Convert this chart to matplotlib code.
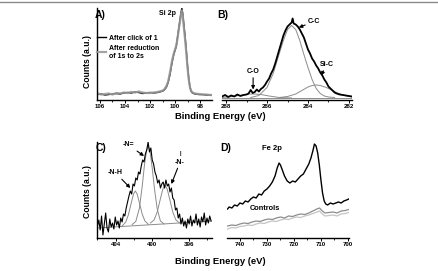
import matplotlib
matplotlib.use("Agg")
import matplotlib.pyplot as plt
from matplotlib.lines import Line2D
from matplotlib.ticker import MultipleLocator
import numpy as np

plt.rcParams['font.family'] = ['Liberation Sans', 'DejaVu Sans']
plt.rcParams['font.weight'] = 'bold'

# A) Si 2p
si_e = [106.2, 105.9, 105.6, 105.3, 105.0, 104.7, 104.4, 104.1, 103.8, 103.5, 103.2, 102.9,
        102.6, 102.3, 102.0, 101.7, 101.4, 101.1, 100.9, 100.7, 100.55, 100.4, 100.25, 100.1,
        100.0, 99.9, 99.8, 99.7, 99.6, 99.52, 99.45, 99.38, 99.3, 99.2, 99.1, 99.0, 98.9,
        98.8, 98.7, 98.6, 98.4, 98.1, 97.8, 97.5, 97.2, 97.0]
si_click = [5, 5.5, 4.5, 5, 5.5, 6, 5.5, 6.5, 7, 6.5, 7.5, 7, 6, 6.5, 7, 6.5, 7, 8,
            9, 12, 17, 25, 36, 45, 49, 53, 62, 71, 80, 87, 91, 86, 76, 64, 50,
            34, 21, 12, 8, 6.5, 5.5, 5, 5, 4.5, 4.5, 4]
si_reduced = [6, 5, 5.5, 6, 5, 6.5, 6, 7, 6.5, 7.5, 7, 8, 7, 6.5, 6.5, 7, 7.5, 8.5,
              9.5, 13, 18, 27, 38, 46, 50, 54, 61, 70, 78, 85, 89, 84, 73, 61, 47,
              32, 20, 12, 8.5, 7, 6, 5.5, 5, 5, 4.5, 4.5]

# B) C 1s
cs_e = [288.2, 288.05, 287.9, 287.75, 287.6, 287.45, 287.3, 287.15, 287.0,
        286.9, 286.8, 286.7, 286.6, 286.5, 286.4, 286.3, 286.2, 286.1, 286.0,
        285.9, 285.8, 285.7, 285.6, 285.5, 285.4, 285.3, 285.2, 285.1, 285.0,
        284.9, 284.8, 284.75, 284.7, 284.6, 284.5, 284.4, 284.3, 284.2, 284.1, 284.0,
        283.9, 283.8, 283.7, 283.6, 283.5, 283.4, 283.3, 283.2, 283.1, 283.0,
        282.9, 282.8, 282.7, 282.6, 282.45, 282.3, 282.15, 282.0, 281.85]
cs_y = [3, 4.5, 2.5, 4, 3, 5, 3.5, 4.5, 5,
        6, 9.5, 6.5, 7.5, 10, 8, 10.5, 12, 14.5, 18,
        21, 26, 30, 36, 43, 50, 57, 64, 69, 73,
        75, 77, 81, 76, 75, 73, 70, 66, 62, 56, 50,
        46, 41, 38, 34, 31, 27, 24, 20, 17, 13,
        11, 9, 7, 6, 5, 4.5, 4, 3.5, 3]
cc_e = [286.8, 286.4, 286.0, 285.7, 285.4, 285.2, 285.0, 284.8, 284.6, 284.4, 284.2,
        284.0, 283.8, 283.6, 283.4, 283.2, 283.0, 282.7]
cc_y = [2, 4, 12, 26, 46, 59, 70, 74, 70, 59, 45, 32, 20, 11, 6, 3.5, 2.5, 2]
sic_e = [285.4, 285.0, 284.6, 284.3, 284.0, 283.8, 283.6, 283.4, 283.1, 282.8, 282.5, 282.2, 281.85]
sic_y = [2, 3, 5.5, 9, 12.5, 14, 14.5, 14, 12, 9, 6, 4, 2.5]
co_e = [288.2, 287.7, 287.2, 286.9, 286.6, 286.3, 285.9, 285.4, 284.8]
co_y = [2, 3, 4.5, 5.5, 5.5, 5, 3.5, 2, 1.5]
cs_base_e = [288.2, 281.85]
cs_base_y = [1.5, 1.5]

# C) N 1s
n_start, n_step = 406.0, 0.15
n_y = [12, 18, 8, 22, 3, 14, 25, 10, 6, 19, 11, 15, 9, 21, 13, 17, 10, 20, 16, 24,
       22, 30, 36, 42, 47, 44, 54, 52, 60, 58, 66, 64, 72, 78, 76, 84, 88, 96, 86, 90,
       78, 74, 66, 62, 55, 58, 50, 54, 56, 50, 58, 52, 54, 46, 50, 40, 38, 28, 30, 20,
       24, 14, 20, 12, 17, 10, 19, 14, 22, 12, 18, 15, 24, 13, 19, 11, 21, 16, 25, 13,
       20, 15, 22, 17]
n_e = n_start - n_step * np.arange(len(n_y))
nh_e = [403.3, 402.9, 402.6, 402.3, 402.05, 401.85, 401.65, 401.4, 401.1, 400.8, 400.4]
nh_y = [12, 16, 23.5, 35, 44, 47, 44, 35, 24, 17, 13.5]
ne_e = [402.2, 401.8, 401.4, 401.1, 400.85, 400.6, 400.44, 400.25, 400.0, 399.75, 399.45, 399.1, 398.7]
ne_y = [13.5, 16.5, 30, 51.5, 73, 88.5, 92, 87.5, 70, 49, 29, 17, 14]
nn_e = [400.2, 399.8, 399.45, 399.15, 398.85, 398.6, 398.35, 398.05, 397.75, 397.4, 397.0]
nn_y = [15, 18, 26, 37.5, 48.7, 52.5, 48.7, 37.5, 26, 18, 15]
n_base_e = [406.05, 393.45]
n_base_y = [10, 17]

# D) Fe 2p
fe_e = [744.6, 744, 743, 742, 741, 740, 739, 738, 737, 736, 735, 734, 733, 732, 731, 730,
        729, 728, 727, 726.2, 725.5, 725, 724.3, 723.5, 722.5, 721.5, 720.5, 719.5, 718.5,
        717.5, 716.5, 715.5, 714.5, 713.7, 713, 712.4, 711.8, 711.2, 710.6, 710, 709.4,
        708.8, 708.2, 707.5, 706.5, 705.5, 704.5, 703.5, 702.5, 701.5, 700.5, 699.7]
fe_y = [29, 31, 30, 33, 32, 35, 34, 37, 36, 39, 41, 40, 44, 43, 47, 49,
        52, 56, 62, 70, 75, 73, 68, 62, 57, 55, 57, 56, 59, 62, 64, 69, 74,
        80, 87, 94, 92, 85, 73, 58, 45, 37, 34, 33, 35, 34, 35, 36, 35, 37, 38, 39]
ctrl_e = [744.6, 743, 741.5, 740, 738.5, 737, 735.5, 734, 732.5, 731, 729.5, 728, 726.5,
          725, 723.5, 722, 720.5, 719, 717.5, 716, 714.5, 713, 711.5, 710.5, 709.5, 708.5,
          707, 705.5, 704, 702.5, 701, 699.7]
ctrl_1 = [12, 13, 12.5, 14, 15, 14.5, 16, 17, 16.5, 18, 19, 18.5, 20, 21, 20, 22,
          21.5, 23, 24, 23.5, 25, 27, 29, 30, 27, 25, 25.5, 26, 25, 27, 27.5, 28.5]
ctrl_2 = [9, 10.5, 10, 11.5, 12, 13, 12.5, 14, 15, 14.5, 16, 17, 16.5, 18, 19, 18.5,
          20, 21, 20.5, 22, 23, 24.5, 26, 27, 24, 22, 22.5, 23, 22, 24, 24.5, 25.5]

W, H = 439, 271
fig = plt.figure(figsize=(W / 100, H / 100), dpi=100)


def box(l, t, r, b):
    return [l / W, 1 - b / H, (r - l) / W, (b - t) / H]


def fx(px):
    return px / W


def fy(py):
    return 1 - py / H


axA = fig.add_axes(box(97, 8, 212, 99.5))
axB = fig.add_axes(box(222, 8, 352, 99.5))
axC = fig.add_axes(box(97, 142, 212, 238))
axD = fig.add_axes(box(227, 142, 349, 238))

for ax in (axA, axB, axC, axD):
    for s in ('top', 'right'):
        ax.spines[s].set_visible(False)
    ax.spines['bottom'].set_linewidth(1.0)
    ax.spines['left'].set_linewidth(1.0)
    ax.set_yticks([])
    ax.tick_params(axis='x', labelsize=4.4, length=2, width=0.7, pad=1.2)
    ax.tick_params(axis='x', which='minor', length=1.2, width=0.6)
for ax in (axB, axD):
    ax.spines['left'].set_visible(False)

# A
axA.plot(si_e, si_click, color='black', lw=1.0, label='After click of 1')
axA.plot(si_e, si_reduced, color='#9a9a9a', lw=1.6, alpha=0.9, label='After reduction\nof 1s to 2s')
axA.set_xlim(106.24, 97.04)
axA.set_ylim(0, 91.5)
axA.xaxis.set_major_locator(MultipleLocator(2))
axA.xaxis.set_minor_locator(MultipleLocator(1))
axA.legend(loc='upper left', bbox_to_anchor=(0.0, 0.71), frameon=False, fontsize=5,
           handlelength=1.3, handletextpad=0.5, borderpad=0, borderaxespad=0, labelspacing=0.45)
axA.text(100.64, 86, 'Si 2p', fontsize=5, ha='center', va='center')

# B
axB.plot(cs_base_e, cs_base_y, color='#8c8c8c', lw=0.7)
axB.plot(co_e, co_y, color='#8c8c8c', lw=0.7)
axB.plot(sic_e, sic_y, color='#8c8c8c', lw=0.7)
axB.plot(cc_e, cc_y, color='#8c8c8c', lw=0.7)
axB.plot(cs_e, cs_y, color='black', lw=1.3)
axB.set_xlim(288.2, 281.85)
axB.set_ylim(0, 91.5)
axB.xaxis.set_major_locator(MultipleLocator(2))
axB.xaxis.set_minor_locator(MultipleLocator(1))
arr = dict(arrowstyle='-|>', color='black', lw=0.8, mutation_scale=5, shrinkA=0, shrinkB=0)
axB.annotate('C-C', xy=(284.45, 72), xytext=(283.7, 78), fontsize=5, ha='center', va='center', arrowprops=arr)
axB.annotate('Si-C', xy=(283.35, 24), xytext=(283.1, 35), fontsize=5, ha='center', va='center', arrowprops=arr)
axB.annotate('C-O', xy=(286.68, 10), xytext=(286.68, 28), fontsize=5, ha='center', va='center', arrowprops=arr)

# C
axC.plot(n_base_e, n_base_y, color='#8c8c8c', lw=0.7)
axC.plot(nh_e, nh_y, color='#8c8c8c', lw=0.7)
axC.plot(ne_e, ne_y, color='#8c8c8c', lw=0.7)
axC.plot(nn_e, nn_y, color='#8c8c8c', lw=0.7)
axC.plot(n_e, n_y, color='black', lw=0.8)
axC.set_xlim(406.05, 393.45)
axC.set_ylim(0, 96)
axC.xaxis.set_major_locator(MultipleLocator(4))
axC.xaxis.set_minor_locator(MultipleLocator(2))
axC.annotate('-N=', xy=(400.9, 82), xytext=(402.6, 93), fontsize=5, ha='center', va='center', arrowprops=arr)
axC.annotate('-N-H', xy=(402.4, 50), xytext=(404.0, 65), fontsize=5, ha='center', va='center', arrowprops=arr)
axC.annotate('-N-', xy=(397.9, 54), xytext=(396.95, 76), fontsize=5, ha='center', va='center', arrowprops=arr)
axC.text(396.95, 84, '|', fontsize=4, ha='center', va='center')

# D
axD.plot(ctrl_e, ctrl_2, color='#c4c4c4', lw=0.9)
axD.plot(ctrl_e, ctrl_1, color='#8c8c8c', lw=0.9)
axD.plot(fe_e, fe_y, color='black', lw=1.0)
axD.set_xlim(744.8, 699.6)
axD.set_ylim(0, 96)
axD.xaxis.set_major_locator(MultipleLocator(10))
axD.xaxis.set_minor_locator(MultipleLocator(5))
axD.text(728.1, 89, 'Fe 2p', fontsize=5.5, ha='center', va='center')
axD.text(730.7, 29, 'Controls', fontsize=5.3, ha='center', va='center')

# panel letters and axis labels
for letter, x, y in (('A)', 95, 15), ('B)', 217, 15), ('C)', 96, 148), ('D)', 220, 148)):
    fig.text(fx(x), fy(y), letter, fontsize=7.5, ha='left', va='center')
for y in (62, 192):
    fig.text(fx(88), fy(y), 'Counts (a.u.)', fontsize=6.2, rotation=90, ha='center', va='center')
for y in (117, 261):
    fig.text(fx(220), fy(y), 'Binding Energy (eV)', fontsize=6.8, ha='center', va='center')

fig.add_artist(Line2D([0, 1], [fy(2), fy(2)], color='#8a8a8a', lw=1.0))

fig.savefig('out.png', dpi=100)
